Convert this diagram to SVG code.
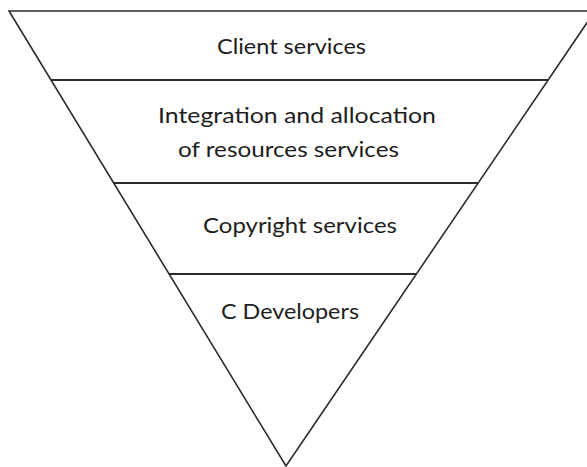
<svg xmlns="http://www.w3.org/2000/svg" width="587" height="467" viewBox="0 0 587 467">
<style>
.edge{fill:none;stroke:#2b2b2b;stroke-width:1.6;stroke-linejoin:miter}
.div{stroke:#2b2b2b;stroke-width:2}
.lbl{font-family:Lato,"Liberation Sans",sans-serif;font-size:22px;fill:#1e1e1e;text-anchor:middle}
</style>
<rect width="587" height="467" fill="#ffffff"/>
<g id="connectors">
<path class="edge" d="M595,11 L9,11 L286,466 L595,11"/>
<line class="div" x1="51" y1="80" x2="548" y2="80"/>
<line class="div" x1="113.5" y1="183" x2="478" y2="183"/>
<line class="div" x1="169" y1="274" x2="416" y2="274"/>
</g>
<g id="client-services"><text class="lbl" x="291.5" y="54" textLength="149" lengthAdjust="spacingAndGlyphs">Client services</text></g>
<g id="integration"><text class="lbl" x="297" y="123" textLength="278" lengthAdjust="spacingAndGlyphs">Integration and allocation</text><text class="lbl" x="288.5" y="157" textLength="221" lengthAdjust="spacingAndGlyphs">of resources services</text></g>
<g id="copyright-services"><text class="lbl" x="300" y="233" textLength="194" lengthAdjust="spacingAndGlyphs">Copyright services</text></g>
<g id="c-developers"><text class="lbl" x="290" y="319" textLength="138" lengthAdjust="spacingAndGlyphs">C Developers</text></g>
</svg>
